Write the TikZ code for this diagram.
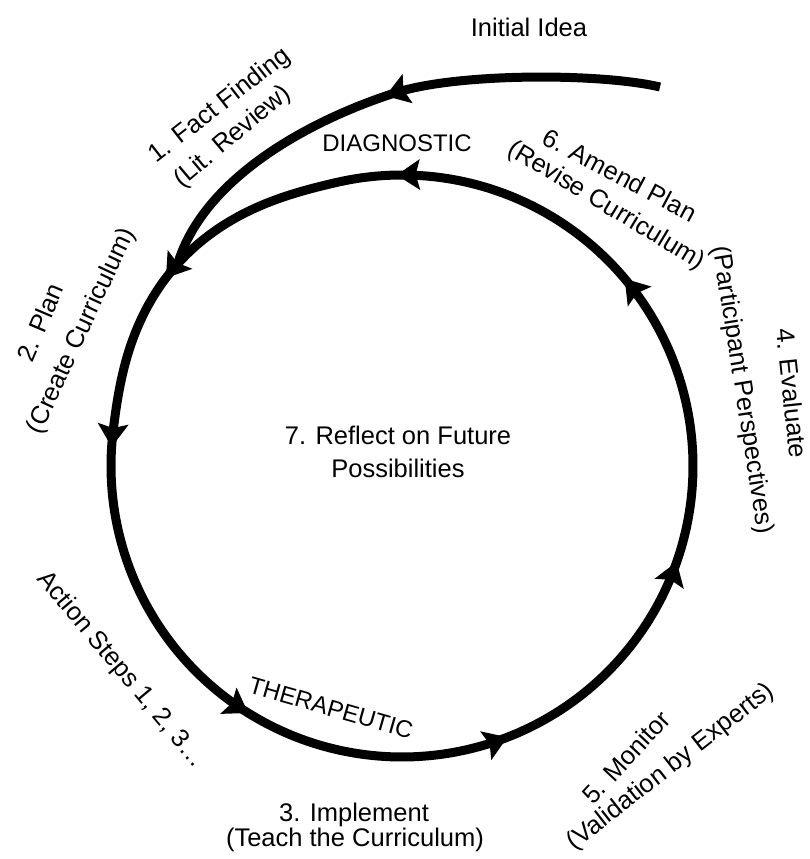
\documentclass[tikz,border=0pt]{standalone}
\usepackage{fontspec}
\setmainfont{Liberation Sans}
\usetikzlibrary{arrows.meta,decorations.markings}
\begin{document}
\begin{tikzpicture}[x=1pt,y=1pt,
  declare function={rr(\t)=291+11*max(0,1-((\t-138)/35)^2)^2+11*max(0,1-((\t-498)/35)^2)^2;},
  loopline/.style={line width=9pt, line cap=butt, line join=round},
  lbl/.style={font=\fontsize{25.5}{30}\selectfont, inner sep=0pt},
  capslbl/.style={font=\fontsize{24}{28}\selectfont, inner sep=0pt},
  midlbl/.style={font=\fontsize{25.5}{33}\selectfont, inner sep=0pt, align=center}]
\def\headmark{\arrow{Stealth[length=23pt,width=30pt,inset=4pt]}}
\useasboundingbox (0,0) rectangle (809,859);
\fill[white] (0,0) rectangle (809,859);
\coordinate (O) at (402,393);
\coordinate (merge) at ({402+302*cos(138)},{393+302*sin(138)});
\coordinate (start) at (660,772);
\coordinate (mid) at (398,767);

% main loop
\draw[loopline, postaction={decorate}, decoration={markings,
   mark=at position 0.010 with {\headmark},
   mark=at position 0.108 with {\headmark},
   mark=at position 0.279 with {\headmark},
   mark=at position 0.426 with {\headmark},
   mark=at position 0.563 with {\headmark},
   mark=at position 0.727 with {\headmark},
   mark=at position 0.868 with {\headmark}}]
  plot[domain=138:498, samples=145, smooth, variable=\t]
  ({402+rr(\t)*cos(\t)},{393+rr(\t)*sin(\t)});

% entry curve from the initial idea
\draw[loopline, postaction={decorate}, decoration={markings,
   mark=at position 277pt with {\headmark}}]
  (start) .. controls (600,786) and (460,786) .. (mid)
          .. controls (318,742) and (205,685) .. (merge);

% labels
\node[lbl] (idea) at (529,832) {Initial Idea};
\node[lbl, rotate=38] (fact1) at (220,753) {1. Fact Finding};
\node[lbl, rotate=40] (fact2) at (233,722) {(Lit. Review)};
\node[capslbl] (diag) at (397,716) {DIAGNOSTIC};
\node[lbl, rotate=-28] (amend1) at (620,684) {6. Amend Plan};
\node[lbl, rotate=-31] (amend2) at (606,653) {(Revise Curriculum)};
\node[lbl, rotate=67] (plan1) at (40,537) {2. Plan};
\node[lbl, rotate=65] (plan2) at (82,528) {(Create Curriculum)};
\node[midlbl] (reflect) at (398,407) {7. Reflect on Future\\Possibilities};
\node[lbl, rotate=-84] (eval1) at (792,466) {4. Evaluate};
\node[lbl, rotate=-81] (eval2) at (742,469) {(Participant Perspectives)};
\node[lbl, rotate=-50] (action) at (121,189) {Action Steps 1, 2, 3…};
\node[capslbl, rotate=-16] (thera) at (331,151) {THERAPEUTIC};
\node[lbl, rotate=47] (mon1) at (626,102) {5. Monitor};
\node[lbl, rotate=38] (mon2) at (671,92) {(Validation by Experts)};
\node[lbl] (impl1) at (354,44) {3. Implement};
\node[lbl] (impl2) at (355,19) {(Teach the Curriculum)};
\end{tikzpicture}
\end{document}
